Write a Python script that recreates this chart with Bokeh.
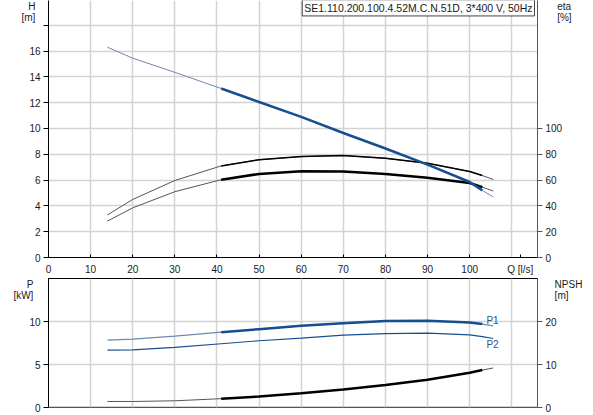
from bokeh.plotting import figure
from bokeh.models import Range1d, LinearAxis, FixedTicker, Label, Span, Grid
from bokeh.layouts import column
from bokeh.embed import file_html
from bokeh.resources import INLINE

# ---------------- data ----------------
Q = [14, 20, 30, 41, 50, 60, 70, 80, 90, 100, 103, 105.6]          # l/s
H = [16.3, 15.45, 14.35, 13.1, 12.05, 10.9, 9.65, 8.45, 7.2, 5.85, 5.2, 4.7]   # m
ETA_UPPER = [33, 45, 59.7, 71, 75.8, 78.2, 79, 76.9, 73, 66.6, 63.5, 60.5]     # %
ETA_LOWER = [28.2, 38.5, 51, 60.3, 64.8, 66.9, 66.6, 64.8, 61.8, 57.7, 54.5, 51.5]
P1 = [7.84, 7.95, 8.3, 8.76, 9.11, 9.5, 9.81, 10.05, 10.08, 9.88, 9.7, 9.5]    # kW
P2 = [6.67, 6.71, 6.98, 7.41, 7.76, 8.07, 8.42, 8.6, 8.65, 8.45, 8.25, 8.02]   # kW
NPSH = [1.4, 1.4, 1.56, 2.05, 2.56, 3.3, 4.2, 5.25, 6.45, 8.1, 8.7, 9.2]        # m
DUTY_START, DUTY_END = 3, 10   # bold (recommended) range: Q = 41 .. 103

X_GRID = list(range(0, 111, 10))
X_TICKS = list(range(0, 101, 10)) + [112]
X_LABELS = {112: "Q [l/s]"}
H_TICKS = list(range(0, 19, 2))
ETA_TICKS = list(range(0, 101, 20))
P_TICKS = [0, 5, 10]
NPSH_TICKS = [0, 10, 20]
TITLE = "SE1.110.200.100.4.52M.C.N.51D, 3*400 V, 50Hz"

# ---------------- layout ----------------
W = 585
FL, FR = 48, 537
TOP_H = 277
TOP_FRAME_BOTTOM = 259
X_MAX = 116.1
H_MAX = 19.92
ETA_MAX = H_MAX * 10
BOT_H = 138
BOT_TOP, BOT_BOTTOM = 278, 407   # page pixel rows of bottom frame
P_MAX = 15.0
NPSH_MAX = 30.0

FONT = "Liberation Sans"
TXT = "#1a1a1a"
BLUE = "#164f8f"
BLUE_THIN = "#6f87ae"
GREY_THIN = "#555555"
GRID = "#d3d3d3"
PAD = "\u00a0\n\u00a0\n"   # two blank lines so the unit label hangs below the frame top


def tx(px):
    return (px - FL) / (FR - FL) * X_MAX


def ty_top(py):
    return (TOP_FRAME_BOTTOM - py) / TOP_FRAME_BOTTOM * H_MAX


def ty_bot(py):
    return (BOT_BOTTOM - py) / (BOT_BOTTOM - BOT_TOP) * P_MAX


def style_axis(ax, line_color="black", label=None, standoff=0):
    ax.axis_line_color = line_color
    ax.major_tick_line_color = line_color
    ax.minor_tick_line_color = None
    ax.major_label_text_font = FONT
    ax.major_label_text_font_size = "10px"
    ax.major_label_text_color = TXT
    if label is not None:
        ax.axis_label = PAD + label
        ax.axis_label_orientation = "horizontal"
        ax.axis_label_align = "end"
        ax.axis_label_standoff = standoff
        ax.axis_label_text_font = FONT
        ax.axis_label_text_font_size = "10px"
        ax.axis_label_text_font_style = "normal"
        ax.axis_label_text_color = TXT
        ax.axis_label_text_align = "center"
        ax.axis_label_text_line_height = 1.05


# ---------------- top chart: H and eta ----------------
top = figure(width=W, height=TOP_H, x_range=Range1d(0, X_MAX), y_range=Range1d(0, H_MAX),
             output_backend="svg", toolbar_location=None,
             min_border_left=FL, min_border_right=W - FR, min_border_top=0, min_border_bottom=0,
             outline_line_color=None)
top.extra_y_ranges = {"eta": Range1d(0, ETA_MAX)}

top.xaxis.ticker = FixedTicker(ticks=X_TICKS)
top.xaxis.major_label_overrides = X_LABELS
top.xaxis.major_tick_in = 3
top.xaxis.major_tick_out = 0
top.xaxis.major_label_standoff = 6
style_axis(top.xaxis[0])
top.xgrid.ticker = FixedTicker(ticks=X_GRID)

top.yaxis.ticker = FixedTicker(ticks=H_TICKS)
top.yaxis.major_label_overrides = {18: ""}
top.yaxis.major_tick_out = 5
top.yaxis.major_tick_in = 0
top.yaxis.major_label_standoff = 3
style_axis(top.yaxis[0], label="H\n[m]", standoff=-9)

eta_axis = LinearAxis(y_range_name="eta", ticker=FixedTicker(ticks=ETA_TICKS),
                      major_tick_out=5, major_tick_in=0, major_label_standoff=3)
style_axis(eta_axis, "#555555", label="eta\n[%]", standoff=-8)
top.add_layout(eta_axis, "right")

for g in (top.xgrid[0], top.ygrid[0]):
    g.grid_line_color = GRID
    g.grid_line_width = 1.5

# efficiency curves (on the eta axis)
top.line(Q, ETA_UPPER, y_range_name="eta", line_color=GREY_THIN, line_width=1)
top.line(Q[DUTY_START:DUTY_END + 1], ETA_UPPER[DUTY_START:DUTY_END + 1], y_range_name="eta",
         line_color="black", line_width=1.5)
top.line(Q, ETA_LOWER, y_range_name="eta", line_color=GREY_THIN, line_width=1)
top.line(Q[DUTY_START:DUTY_END + 1], ETA_LOWER[DUTY_START:DUTY_END + 1], y_range_name="eta",
         line_color="black", line_width=2.5)
# head curve
top.line(Q, H, line_color=BLUE_THIN, line_width=1)
top.line(Q[DUTY_START:DUTY_END + 1], H[DUTY_START:DUTY_END + 1], line_color=BLUE, line_width=2.5)

top.add_layout(Label(x=tx(534), y=ty_top(7.5), text=TITLE, text_font=FONT, text_font_size="10.5px",
                     text_color=TXT, text_align="right", text_baseline="middle",
                     border_line_color="#444444", border_line_width=1,
                     background_fill_color="white", padding=2))

# ---------------- bottom chart: P1, P2, NPSH ----------------
bot = figure(width=W, height=BOT_H, x_range=Range1d(0, X_MAX), y_range=Range1d(0, P_MAX),
             x_axis_location=None, output_backend="svg", toolbar_location=None,
             min_border_left=FL, min_border_right=W - FR,
             min_border_top=BOT_TOP - TOP_H, min_border_bottom=TOP_H + BOT_H - BOT_BOTTOM,
             outline_line_color="black", outline_line_width=1)
bot.extra_y_ranges = {"npsh": Range1d(0, NPSH_MAX)}

bot.yaxis.ticker = FixedTicker(ticks=P_TICKS)
bot.yaxis.major_tick_out = 5
bot.yaxis.major_tick_in = 0
bot.yaxis.major_label_standoff = 3
style_axis(bot.yaxis[0], label="P\n[kW]", standoff=-7)
bot.ygrid[0].visible = False

npsh_axis = LinearAxis(y_range_name="npsh", ticker=FixedTicker(ticks=NPSH_TICKS),
                       major_tick_out=5, major_tick_in=0, major_label_standoff=3)
style_axis(npsh_axis, "#555555", label="NPSH\n[m]", standoff=-5)
bot.add_layout(npsh_axis, "right")

bot.add_layout(Grid(dimension=0, ticker=FixedTicker(ticks=X_GRID[1:]),
                    grid_line_color=GRID, grid_line_width=1.5))
bot.add_layout(Grid(dimension=1, ticker=FixedTicker(ticks=P_TICKS[1:]),
                    grid_line_color=GRID, grid_line_width=1.5))
bot.add_layout(Span(location=0, dimension="width", line_color="#a8a8a8", line_width=2))

bot.line(Q, NPSH, y_range_name="npsh", line_color=GREY_THIN, line_width=1)
bot.line(Q[DUTY_START:DUTY_END + 1], NPSH[DUTY_START:DUTY_END + 1], y_range_name="npsh",
         line_color="black", line_width=2.5)
bot.line(Q, P2, line_color=BLUE, line_width=1.2)
bot.line(Q, P1, line_color=BLUE_THIN, line_width=1.2)
bot.line(Q[DUTY_START:DUTY_END + 1], P1[DUTY_START:DUTY_END + 1], line_color=BLUE, line_width=2.5)

for txt, py in (("P1", 320), ("P2", 344)):
    bot.add_layout(Label(x=tx(492), y=ty_bot(py), text=txt, text_font=FONT, text_font_size="10px",
                         text_color="#2b5486", text_align="center", text_baseline="middle"))

layout = column(top, bot, spacing=0)

open("out.html", "w").write(file_html(layout, INLINE))
